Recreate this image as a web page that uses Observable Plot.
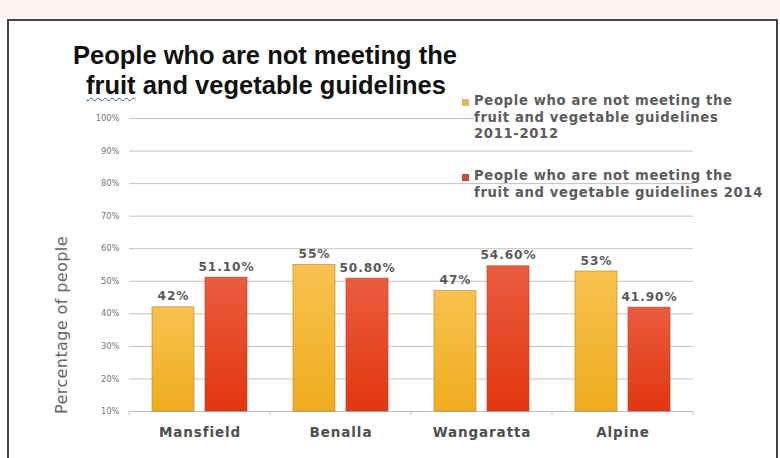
<!DOCTYPE html>
<html>
<head>
<meta charset="utf-8">
<script src="https://cdn.jsdelivr.net/npm/d3@7"></script>
<script src="https://cdn.jsdelivr.net/npm/@observablehq/plot@0.6"></script>
<style>
  html, body { margin: 0; padding: 0; background: #fff; }
  #wrap { position: relative; width: 780px; height: 458px; overflow: hidden; background: #fff; }
  #strip { position: absolute; left: 0; top: 0; width: 780px; height: 19px; background: #fcf5f3; }
  #frame { position: absolute; left: 7px; top: 19px; width: 767px; height: 470px; border: 2px solid #444; border-bottom: none; }
  #chart { position: absolute; left: 0; top: 0; }
  .title { position: absolute; font-family: "Liberation Sans", Arial, sans-serif; font-weight: bold; font-size: 25.5px; color: #111; white-space: nowrap; line-height: 1; }
  .spell { text-decoration: underline wavy #3b4fd0; text-decoration-thickness: 1px; text-underline-offset: 3px; }
  .legend { position: absolute; left: 474px; font-family: "DejaVu Sans", sans-serif; font-weight: bold; font-size: 13.2px; letter-spacing: 0.65px; line-height: 16.5px; color: #5c5c5c; white-space: nowrap; }
  .sw { position: absolute; width: 7px; height: 7px; }
  #ylab { position: absolute; left: 61px; top: 325px; transform: translate(-50%, -50%) rotate(-90deg); font-family: "DejaVu Sans", sans-serif; font-size: 16px; letter-spacing: 0.4px; color: #666; white-space: nowrap; }
</style>
</head>
<body>
<div id="wrap">
  <div id="strip"></div>
  <div id="frame"></div>
  <div id="chart"></div>
  <div class="title" id="t1" style="left:73px; top:43px;"></div>
  <div class="title" id="t2" style="left:86px; top:73px;"></div>
  <div id="legendBox"></div>
  <div id="ylab"></div>
</div>
<script>
// ---- data ----
const titleLines = ["People who are not meeting the", "fruit and vegetable guidelines"];
const categories = ["Mansfield", "Benalla", "Wangaratta", "Alpine"];
const seriesNames = [
  "People who are not meeting the fruit and vegetable guidelines 2011-2012",
  "People who are not meeting the fruit and vegetable guidelines 2014"
];
const legendLines2011 = ["People who are not meeting the", "fruit and vegetable guidelines", "2011-2012"];
const legendLines2014 = ["People who are not meeting the", "fruit and vegetable guidelines 2014"];
const values2011 = [42, 55, 47, 53];
const values2014 = [51.1, 50.8, 54.6, 41.9];
const labels2011 = ["42%", "55%", "47%", "53%"];
const labels2014 = ["51.10%", "50.80%", "54.60%", "41.90%"];
const yTicks = [10, 20, 30, 40, 50, 60, 70, 80, 90, 100];
const yAxisLabel = "Percentage of people";

// ---- table ----
const rows = categories.flatMap((c, i) => [
  {cat: c, s: seriesNames[0], v: values2011[i], label: labels2011[i]},
  {cat: c, s: seriesNames[1], v: values2014[i], label: labels2014[i]}
]);

const fillUrls = ["url(#gradY)", "url(#gradR)"];
const strokes = ["#b58a3a", "#b0452e"];

const plot = Plot.plot({
  width: 780,
  height: 458,
  marginLeft: 128,
  marginRight: 87,
  marginTop: 118,
  marginBottom: 47,
  style: {fontFamily: "DejaVu Sans, sans-serif", fontSize: "8px", color: "#777", background: "transparent"},
  fx: {domain: categories, padding: 0, label: null, axis: "bottom", tickSize: 0, tickPadding: 16},
  x: {domain: seriesNames, paddingInner: 0.204, paddingOuter: 0.41, axis: null},
  y: {domain: [10, 100], ticks: yTicks, tickFormat: d => d + "%", tickSize: 0, tickPadding: 10, label: null},
  color: {domain: seriesNames, range: fillUrls},
  marks: [
    Plot.ruleY(yTicks.slice(1), {stroke: "#c2c2c2", strokeWidth: 1}),
    Plot.ruleY([10], {stroke: "#bdbdbd", strokeWidth: 1}),
    Plot.barY(rows, {fx: "cat", x: "s", y1: 10, y2: "v", fill: "s",
      stroke: d => strokes[seriesNames.indexOf(d.s)], strokeWidth: 0.8, strokeOpacity: 0.8}),
    Plot.text(rows, {fx: "cat", x: "s", y: "v", text: "label", lineAnchor: "bottom", dy: -7,
      fill: "#5a5a5a", fontWeight: "bold", fontSize: 12.2, fontFamily: "DejaVu Sans, sans-serif"})
  ]
});

document.getElementById("chart").appendChild(plot);

// gradients
const svg = d3.select(plot);
const defs = svg.insert("defs", ":first-child");
const gy = defs.append("linearGradient").attr("id", "gradY").attr("x1", 0).attr("y1", 0).attr("x2", 0).attr("y2", 1);
gy.append("stop").attr("offset", "0%").attr("stop-color", "#f9c24f");
gy.append("stop").attr("offset", "100%").attr("stop-color", "#efad1f");
const gr = defs.append("linearGradient").attr("id", "gradR").attr("x1", 0).attr("y1", 0).attr("x2", 0).attr("y2", 1);
gr.append("stop").attr("offset", "0%").attr("stop-color", "#eb5c3f");
gr.append("stop").attr("offset", "100%").attr("stop-color", "#e2360f");

// value labels letter spacing
svg.selectAll('[aria-label="text"] text').style("letter-spacing", "0.9px");

// category axis label styling
svg.selectAll('[aria-label^="fx-axis"] text')
  .style("font-size", "13.5px").style("font-weight", "bold").style("letter-spacing", "0.9px")
  .attr("fill", "#4e4e4e").style("fill", "#4e4e4e");
svg.selectAll('[aria-label^="y-axis"] text').attr("fill", "#777").style("fill", "#777").style("font-size", "8.3px");

// boundary ticks on the category axis, from the fx scale
const fxs = plot.scale("fx");
const ys = plot.scale("y");
const y0 = ys.apply(10);
const bounds = categories.map(c => fxs.apply(c)).concat([fxs.apply(categories[categories.length - 1]) + fxs.bandwidth]);
svg.append("g").selectAll("line").data(bounds).join("line")
  .attr("x1", d => d).attr("x2", d => d).attr("y1", y0).attr("y2", y0 + 4)
  .attr("stroke", "#bdbdbd");

// title
document.getElementById("t1").textContent = titleLines[0];
const t2 = document.getElementById("t2");
const w = titleLines[1].split(" ");
t2.innerHTML = '<span class="spell">' + w[0] + '</span> ' + w.slice(1).join(" ");

// legend
const lb = document.getElementById("legendBox");
const swColors = ["#dcbb5c", "#c84a3c"];
function addLegend(lines, top, color, swTop, bgLine) {
  const sw = document.createElement("div");
  sw.className = "sw"; sw.style.left = "462px"; sw.style.top = swTop + "px"; sw.style.background = color;
  lb.appendChild(sw);
  const d = document.createElement("div");
  d.className = "legend"; d.style.top = top + "px";
  d.innerHTML = lines.map((l, i) => '<div><span' + (i === bgLine ? ' style="background:#fff"' : '') + '>' + l + '</span></div>').join("");
  lb.appendChild(d);
}
addLegend(legendLines2011, 93, swColors[0], 99, 1);
addLegend(legendLines2014, 168, swColors[1], 174, -1);

document.getElementById("ylab").textContent = yAxisLabel;
</script>
</body>
</html>
